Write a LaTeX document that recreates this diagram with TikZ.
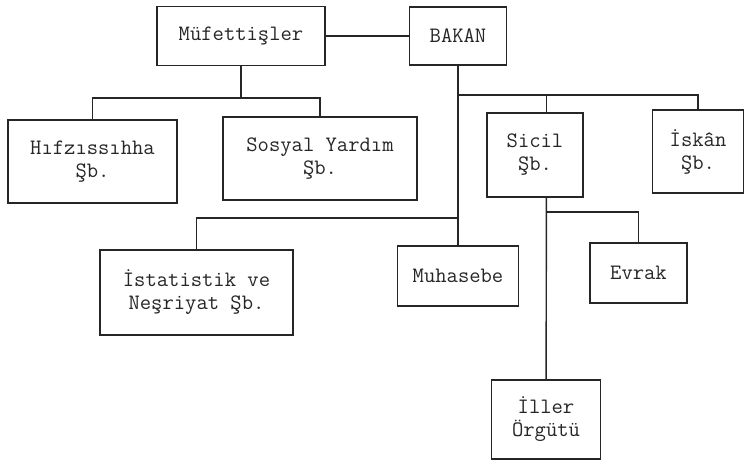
\documentclass[tikz,border=0pt]{standalone}
\usepackage{fontspec}
\usepackage{tikz}
\usetikzlibrary{positioning}
\definecolor{ink}{HTML}{262626}

\begin{document}
\begin{tikzpicture}[x=1pt, y=-1pt,
	box/.style={rectangle, draw=ink, line width=1.4pt, text=ink, align=center,
		inner sep=0pt, font=\ttfamily\fontsize{22}{23}\selectfont},
	link/.style={draw=ink, line width=1.4pt}
	]
	\useasboundingbox (0,0) rectangle (745,460);

	\node[box, minimum width=168, minimum height=59] (muf) at (241,36) {Müfettişler};
	\node[box, minimum width=97, minimum height=58] (bakan) at (458,36) {BAKAN};

	\node[box, minimum width=169, minimum height=83] (hif) at (92.5,161.5) {Hıfzıssıhha\\Şb.};
	\node[box, minimum width=194, minimum height=83] (sos) at (320,158.5) {Sosyal Yardım\\Şb.};
	\node[box, minimum width=96, minimum height=84] (sicil) at (535,155) {Sicil\\Şb.};
	\node[box, minimum width=91, minimum height=83] (iskan) at (698,151.5) {İskân\\Şb.};

	\node[box, minimum width=193, minimum height=85] (ist) at (196.5,292.5) {İstatistik ve\\Neşriyat Şb.};
	\node[box, minimum width=121, minimum height=60] (muh) at (458,276) {Muhasebe};
	\node[box, minimum width=97, minimum height=60] (evrak) at (638.5,273) {Evrak};
	\node[box, minimum width=109, minimum height=79] (iller) at (546,419.5) {İller\\Örgütü};

	\coordinate (mufjoint) at (241,98);
	\coordinate (bakanjoint) at (458,95);
	\coordinate (istjoint) at (458,218);
	\coordinate (siciljoint) at (546,212);

	\draw[link] (muf) -- (bakan);
	\draw[link] (muf) -- (mufjoint);
	\draw[link] (hif) |- (mufjoint) -| (sos);

	\draw[link] (bakan) -- (muh);
	\draw[link] (bakanjoint) -| (iskan);
	\draw[link] (sicil.75) -- (sicil.75 |- bakanjoint);
	\draw[link] (ist) |- (istjoint);

	\draw[link] (sicil.-75) -- (iller);
	\draw[link] (siciljoint) -| (evrak);
\end{tikzpicture}
\end{document}
